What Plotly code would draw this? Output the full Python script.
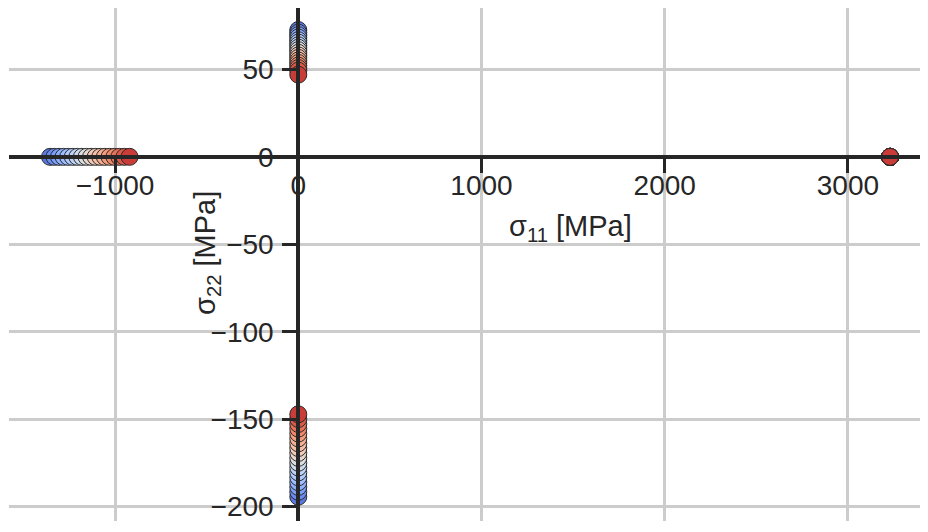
import plotly.graph_objects as go

# ---- data ----
load_case = [1, 2, 3, 4, 5, 6, 7, 8, 9, 10, 11, 12, 13, 14, 15, 16, 17, 18]
s11_tension = [3230, 3230, 3230, 3230, 3230, 3230, 3230, 3230, 3230,
               3230, 3230, 3230, 3230, 3230, 3230, 3230, 3230, 3230]
s11_compression = [-1355, -1331, -1306, -1281, -1256, -1231, -1206, -1181, -1156,
                   -1131, -1106, -1081, -1056, -1030, -1004, -977, -949, -921]
s22_tension = [72.5, 71.0, 69.6, 68.2, 66.7, 65.3, 63.8, 62.4, 61.0,
               59.5, 58.0, 56.6, 55.1, 53.7, 52.2, 50.8, 49.3, 47.0]
s22_compression = [-194.3, -191.5, -188.7, -186.0, -183.2, -180.4, -177.6, -174.9, -172.1,
                   -169.3, -166.5, -163.8, -161.0, -158.2, -155.4, -152.7, -149.9, -147.2]
zeros = [0] * len(load_case)

x_ticks = [-1000, 0, 1000, 2000, 3000]
y_ticks = [-200, -150, -100, -50, 0, 50]
x_range = [-1579, 3437]
y_range = [-208.2, 85.1]

# matplotlib "coolwarm"
coolwarm = [
    (0.0, (59, 76, 192)), (0.0625, (77, 104, 215)), (0.125, (98, 130, 234)),
    (0.1875, (119, 154, 247)), (0.25, (141, 176, 254)), (0.3125, (163, 194, 255)),
    (0.375, (184, 208, 249)), (0.4375, (204, 217, 238)), (0.5, (221, 221, 221)),
    (0.5625, (236, 211, 197)), (0.625, (245, 196, 173)), (0.6875, (247, 177, 148)),
    (0.75, (244, 154, 123)), (0.8125, (236, 127, 99)), (0.875, (222, 96, 77)),
    (0.9375, (203, 62, 56)), (1.0, (180, 4, 38)),
]
colorscale = [[t, "rgb(%d,%d,%d)" % c] for t, c in coolwarm]
pmin, pmax = min(load_case), max(load_case)
span = pmax - pmin
t0, t1 = 0.10, 0.94
cmin = pmin - t0 * span / (t1 - t0)
cmax = cmin + span / (t1 - t0)

INK = "#262626"
FONT = "Liberation Sans, Arial, sans-serif"
TICK_SIZE = 28
TITLE_SIZE = 29

fig = go.Figure()
for xs, ys in [(s11_tension, zeros), (s11_compression, zeros),
               (zeros, s22_tension), (zeros, s22_compression)]:
    fig.add_trace(go.Scatter(
        x=xs, y=ys, mode="markers", showlegend=False,
        marker=dict(size=17, color=load_case, colorscale=colorscale,
                    cmin=cmin, cmax=cmax,
                    line=dict(color="#2a2a2a", width=1)),
    ))

# page body adds an 8px offset; figure sized to fill the rest of the window
OFF = 8
W, H = 928 - OFF, 532 - OFF
L, R, T, B = 1, 0, 0, 11
x_pos = (0 - x_range[0]) / (x_range[1] - x_range[0])
y_pos = (0 - y_range[0]) / (y_range[1] - y_range[0])

axis_common = dict(
    showline=True, linecolor=INK, linewidth=4,
    ticks="outside", ticklen=14, tickwidth=3, tickcolor=INK,
    showgrid=True, gridcolor="#cccccc", gridwidth=2.5,
    zeroline=False, tickfont=dict(size=TICK_SIZE, color=INK, family=FONT),
    anchor="free",
)

fig.update_layout(
    width=W, height=H,
    margin=dict(l=L, r=R, t=T, b=B),
    paper_bgcolor="white", plot_bgcolor="white",
    font=dict(family=FONT, size=TICK_SIZE, color=INK),
    xaxis=dict(range=x_range, tickvals=x_ticks, position=y_pos,
               ticklabelstandoff=-11, **axis_common),
    yaxis=dict(range=y_range, tickvals=y_ticks, position=x_pos,
               ticklabelstandoff=3, **axis_common),
)

pw, ph = W - L - R, H - T - B
def px_to_paper(sx, sy):
    fx, fy = sx - OFF, sy - OFF
    return (fx - L) / pw, (H - B - fy) / ph

ax, ay = px_to_paper(570, 228)
fig.add_annotation(text="σ<sub>11</sub> [MPa]", xref="paper", yref="paper",
                   x=ax, y=ay, xanchor="center", yanchor="middle", showarrow=False,
                   font=dict(size=TITLE_SIZE, color=INK, family=FONT))
bx, by = px_to_paper(207, 253)
fig.add_annotation(text="σ<sub>22</sub> [MPa]", xref="paper", yref="paper",
                   x=bx, y=by, textangle=-90,
                   xanchor="center", yanchor="middle", showarrow=False,
                   font=dict(size=TITLE_SIZE, color=INK, family=FONT))

fig.write_html("out.html")
